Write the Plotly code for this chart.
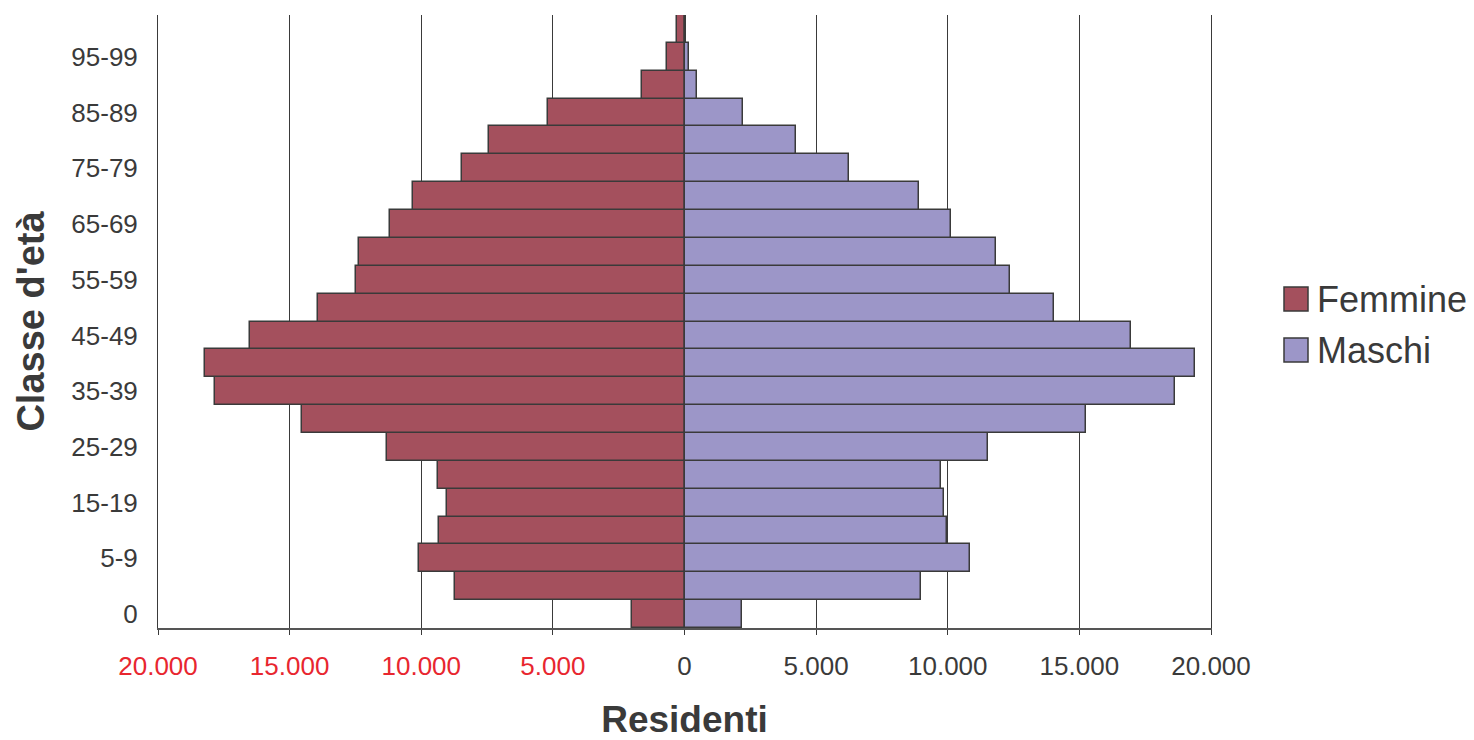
import plotly.graph_objects as go

# ---- data ----
age_classes = ["0", "1-4", "5-9", "10-14", "15-19", "20-24", "25-29", "30-34",
               "35-39", "40-44", "45-49", "50-54", "55-59", "60-64", "65-69",
               "70-74", "75-79", "80-84", "85-89", "90-94", "95-99", "100+"]
femmine = [1980, 8710, 10080, 9320, 9040, 9380, 11310, 14520, 17820, 18210,
           16510, 13910, 12460, 12370, 11170, 10330, 8470, 7410, 5190, 1600,
           680, 280]
maschi = [2170, 9000, 10840, 9960, 9850, 9750, 11520, 15270, 18630, 19400,
          16950, 14050, 12360, 11830, 10120, 8900, 6240, 4230, 2240, 480,
          160, 70]
series_names = ["Femmine", "Maschi"]
series_colors = ["#a4505d", "#9c96c8"]
x_ticks = [-20000, -15000, -10000, -5000, 0, 5000, 10000, 15000, 20000]
y_tick_labels = ["0", "5-9", "15-19", "25-29", "35-39", "45-49", "55-59",
                 "65-69", "75-79", "85-89", "95-99"]

FONT = "Liberation Sans, Arial, sans-serif"
TXT = "#3a3a3a"
RED = "#e8262f"


def fmt(v):
    s = f"{abs(v):,}".replace(",", ".")
    if v < 0:
        return f"<span style='color:{RED}'>{s}</span>"
    return s


fig = go.Figure()
fig.add_trace(go.Bar(
    y=age_classes, x=[-v for v in femmine], orientation="h",
    name=series_names[0], marker=dict(color=series_colors[0],
                                      line=dict(color="#3a3a3a", width=1.5)),
    showlegend=False))
fig.add_trace(go.Bar(
    y=age_classes, x=maschi, orientation="h",
    name=series_names[1], marker=dict(color=series_colors[1],
                                      line=dict(color="#3a3a3a", width=1.5)),
    showlegend=False))

# page body has an 8px margin, so the figure origin sits at (8, 8)
OFF = 8
W, H = 1474 - OFF, 740 - OFF
L, R, T, B = 158 - OFF, 263, 15 - OFF, 112
pw, ph = W - L - R, H - T - B


def px_x(x):
    return (x - OFF - L) / pw


def px_y(y):
    return (H - B - (y - OFF)) / ph


shapes = []
annotations = []
legend_y = [299, 350]
for i, (nm, col) in enumerate(zip(series_names, series_colors)):
    yc = legend_y[i]
    shapes.append(dict(type="rect", xref="paper", yref="paper",
                       x0=px_x(1284), x1=px_x(1308),
                       y0=px_y(yc + 12), y1=px_y(yc - 12),
                       fillcolor=col, line=dict(color="#3a3a3a", width=1.5)))
    annotations.append(dict(xref="paper", yref="paper", x=px_x(1315),
                            y=px_y(yc), text=nm, showarrow=False,
                            xanchor="left", yanchor="middle",
                            font=dict(family=FONT, size=36, color=TXT)))

fig.update_layout(
    width=W, height=H,
    margin=dict(l=L, r=R, t=T, b=B, autoexpand=False),
    paper_bgcolor="white", plot_bgcolor="white",
    barmode="relative", bargap=0,
    showlegend=False,
    shapes=shapes, annotations=annotations,
    font=dict(family=FONT, color=TXT),
    xaxis=dict(
        range=[-20000, 20000], tickvals=x_ticks,
        ticktext=[fmt(v) for v in x_ticks],
        tickfont=dict(family=FONT, size=26, color=TXT),
        showgrid=True, gridcolor="#3a3a3a", gridwidth=1,
        zeroline=False, showline=True, linecolor="#555555", linewidth=2,
        ticks="outside", ticklen=5, tickcolor="#3a3a3a",
        ticklabelstandoff=9,
        title=dict(text="<b>Residenti</b>", standoff=26,
                   font=dict(family=FONT, size=37, color=TXT)),
        fixedrange=True,
    ),
    yaxis=dict(
        type="category", categoryorder="array", categoryarray=age_classes,
        range=[-0.5, len(age_classes) - 0.5],
        tickvals=y_tick_labels, ticktext=y_tick_labels,
        tickfont=dict(family=FONT, size=26, color=TXT),
        showgrid=False, zeroline=False,
        showline=True, mirror=True, linecolor="#3a3a3a", linewidth=1,
        ticks="", ticklabelstandoff=14,
        title=dict(text="<b>Classe d'età</b>", standoff=14,
                   font=dict(family=FONT, size=38, color=TXT)),
        fixedrange=True,
    ),
)

fig.write_html("out.html")
